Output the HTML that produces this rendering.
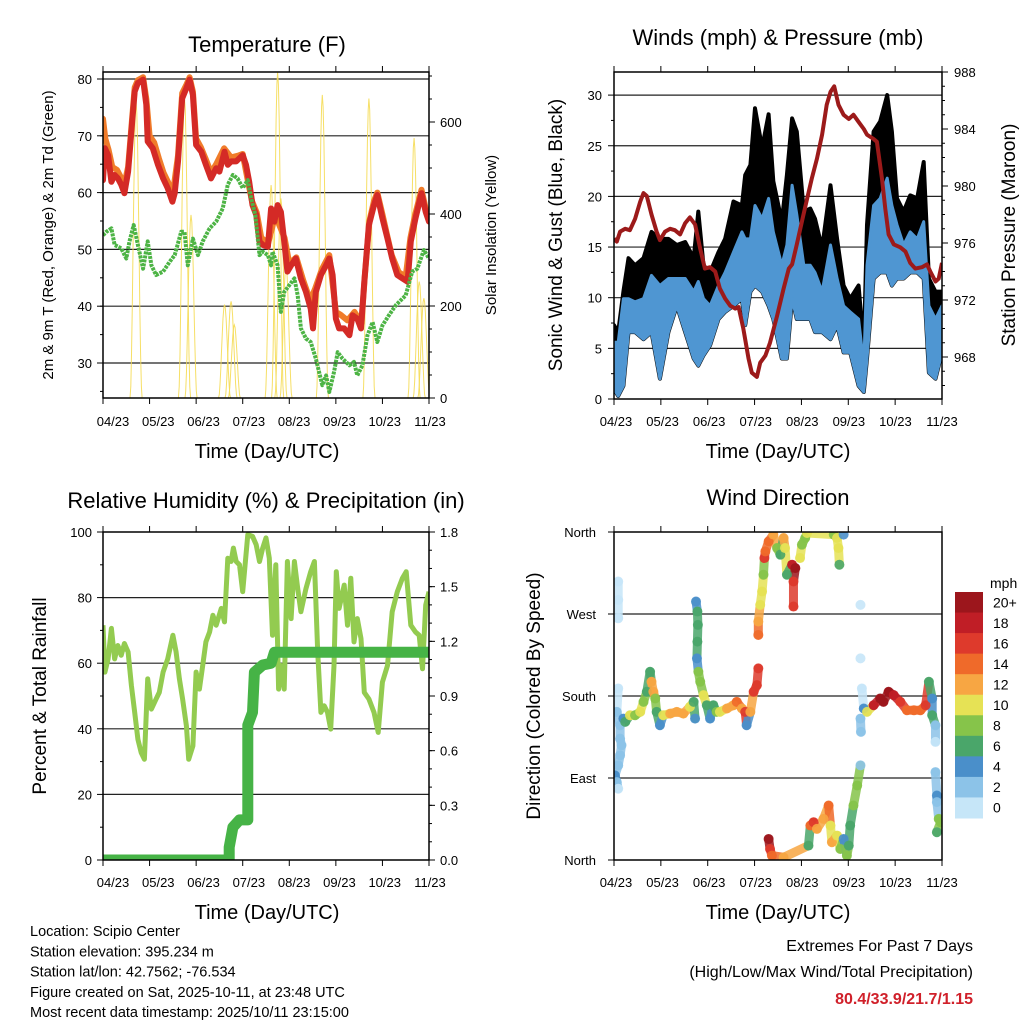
<!DOCTYPE html>
<html><head><meta charset="utf-8">
<style>
html,body{margin:0;padding:0;background:#fff;}
svg{display:block;font-family:"Liberation Sans",sans-serif;}
</style></head>
<body>
<svg id="chart" width="1024" height="1024" viewBox="0 0 1024 1024">
<defs>
<clipPath id="c1"><rect x="103" y="72" width="326" height="326"/></clipPath>
<clipPath id="c2"><rect x="614" y="72" width="328" height="327"/></clipPath>
<clipPath id="c3"><rect x="103" y="532" width="326" height="328"/></clipPath>
<clipPath id="c4"><rect x="614" y="532" width="328" height="328"/></clipPath>
</defs>
<g id="root"></g>
</svg>
<script>
// ---------- DATA (x in months since 04/23) ----------
const xTickLabels = ["04/23","05/23","06/23","07/23","08/23","09/23","10/23","11/23"];
const tempTicks = [80,70,60,50,40,30];
const solarTicks = [0,200,400,600];
const windTicks = [0,5,10,15,20,25,30];
const presTicks = [968,972,976,980,984,988];
const rhTicks = [0,20,40,60,80,100];
const precipTicks = ["0.0","0.3","0.6","0.9","1.2","1.5","1.8"];
const dirLabels = ["North","East","South","West","North"];
const speedBins = ["0","2","4","6","8","10","12","14","16","18","20+"];

const tRedX = [0,0.04,0.11,0.18,0.25,0.32,0.39,0.46,0.54,0.61,0.68,0.75,0.86,0.93,0.96,1.07,1.18,1.29,1.39,1.49,1.54,1.61,1.70,1.79,1.86,1.93,2.0,2.11,2.21,2.32,2.43,2.5,2.61,2.68,2.75,2.86,3.0,3.07,3.14,3.21,3.29,3.36,3.43,3.54,3.61,3.68,3.75,3.82,3.89,3.96,4.04,4.14,4.25,4.36,4.46,4.51,4.57,4.68,4.79,4.86,4.93,5.0,5.07,5.18,5.29,5.36,5.46,5.54,5.61,5.71,5.82,5.89,6.0,6.11,6.21,6.32,6.43,6.54,6.61,6.71,6.84,6.93,7.0];
const tRedV = [62.2,67.8,66.6,61.9,63.1,62.5,61.4,59.9,63.7,70.8,77.8,79.3,79.9,75.5,69.0,67.8,64.9,62.5,60.8,58.4,59.9,65.5,76.6,78.4,79.9,77.2,68.4,67.2,64.9,62.5,64.3,63.7,67.2,64.9,65.5,65.5,66.6,64.9,61.9,57.8,56.1,51.4,50.8,50.5,57.2,54.9,57.8,56.6,51.4,46.1,47.2,48.4,44.9,42.5,39.6,36.1,42.5,45.5,47.2,48.4,45.5,37.8,36.1,36.1,34.9,38.4,37.8,36.1,44.3,54.3,57.8,59.6,55.5,51.9,48.4,45.5,44.9,44.3,51.4,55.5,59.9,56.6,54.9];
const tOrgX = [0,0.05,0.12,0.2,0.3,0.46,0.54,0.61,0.68,0.75,0.86,0.93,1.0,1.1,1.2,1.3,1.4,1.49,1.61,1.70,1.79,1.86,1.93,2.0,2.1,2.2,2.32,2.43,2.6,2.75,2.9,3.0,3.1,3.2,3.3,3.4,3.55,3.7,3.9,4.0,4.15,4.3,4.45,4.55,4.7,4.86,5.0,5.1,5.25,5.4,5.55,5.62,5.72,5.82,5.89,6.0,6.1,6.2,6.35,6.5,6.6,6.7,6.84,6.93,7.0];
const tOrgV = [73.0,69.5,67.5,64.5,64.0,61.5,64.5,71.5,78.5,79.8,80.3,76.5,70.0,68.8,66.0,63.5,61.8,59.2,66.5,77.5,79.0,80.3,77.8,69.5,68.0,66.0,63.5,65.0,67.8,66.2,66.5,66.8,62.5,58.5,56.5,52.0,51.2,56.0,52.0,47.5,48.6,44.5,41.0,43.0,46.5,49.0,39.0,38.5,37.5,39.0,37.0,45.0,55.0,58.5,60.0,56.2,52.5,49.0,46.0,45.2,52.0,56.0,60.5,57.2,56.0];
const tdX = [0,0.07,0.18,0.25,0.39,0.5,0.57,0.66,0.75,0.86,0.96,1.04,1.14,1.29,1.43,1.54,1.68,1.75,1.82,1.93,2.04,2.14,2.29,2.43,2.57,2.68,2.79,2.89,3.0,3.11,3.18,3.27,3.36,3.43,3.54,3.61,3.64,3.75,3.82,3.89,4.0,4.11,4.18,4.25,4.36,4.46,4.57,4.64,4.71,4.79,4.86,4.96,5.04,5.14,5.29,5.39,5.46,5.57,5.68,5.79,5.89,6.0,6.14,6.29,6.5,6.64,6.75,6.89,7.0];
const tdV = [52.5,53.1,53.7,50.8,50.2,48.4,51.4,54.3,50.8,46.6,51.4,47.2,45.5,46.1,47.8,49.0,53.1,53.1,47.2,51.9,49.0,51.4,53.7,54.9,57.2,61.4,63.1,62.5,60.8,62.2,59.0,56.1,49.0,49.6,49.0,47.2,49.6,47.2,39.0,42.5,43.7,44.9,41.9,36.1,34.3,33.7,30.8,28.4,26.1,27.8,24.9,28.4,31.9,30.8,29.6,30.2,27.8,29.6,34.9,37.2,33.7,36.6,38.4,40.2,41.9,46.1,46.6,49.9,48.4];
const solarX = [0.71,1.75,1.89,2.61,2.75,2.82,3.61,3.75,3.82,3.93,4.71,5.71,6.68,6.79,6.89];
const solarV = [644,651,398,203,210,159,463,709,434,290,659,651,565,253,217];

const presX = [0,0.06,0.13,0.24,0.34,0.45,0.56,0.63,0.7,0.8,0.91,0.98,1.09,1.2,1.3,1.41,1.52,1.62,1.73,1.84,1.94,2.05,2.16,2.26,2.37,2.48,2.59,2.66,2.76,2.87,2.94,3.05,3.12,3.23,3.33,3.48,3.62,3.73,3.8,3.9,4.01,4.12,4.22,4.33,4.44,4.54,4.62,4.7,4.79,4.9,5.01,5.11,5.22,5.33,5.4,5.54,5.61,5.72,5.79,5.86,5.97,6.11,6.22,6.32,6.43,6.57,6.68,6.75,6.86,6.93,7.0];
const presV = [976.3,976.1,976.8,977.0,976.9,977.7,978.9,979.5,979.3,978.0,976.8,976.2,976.8,977.0,976.9,976.6,977.4,977.8,977.3,975.6,974.2,974.3,974.0,972.8,972.1,971.6,971.4,971.5,970.0,967.9,966.9,966.6,967.6,968.1,969.0,970.9,972.8,974.2,974.5,975.9,977.5,979.1,980.5,981.9,983.6,985.7,986.6,987.0,985.7,985.0,984.7,985.0,984.5,984.0,983.6,983.3,983.1,980.5,978.4,976.6,975.9,975.7,975.4,974.6,974.2,974.3,974.5,974.0,973.3,973.5,974.6];
const windX = [0,0.09,0.2,0.31,0.45,0.63,0.8,0.98,1.16,1.34,1.52,1.7,1.8,1.91,2.05,2.23,2.37,2.55,2.73,2.8,2.91,3.01,3.16,3.3,3.4,3.58,3.69,3.8,3.9,4.05,4.19,4.29,4.44,4.62,4.76,4.9,5.04,5.22,5.33,5.4,5.54,5.68,5.83,5.93,6.04,6.18,6.32,6.47,6.61,6.72,6.86,7.0];
const gustHi = [7.3,6.6,10.6,13.9,13.2,13.9,16.5,15.8,15.8,15.2,15.5,13.9,18.5,13.2,12.5,14.5,15.8,19.5,19.1,22.1,23.1,28.7,24.8,28.1,21.5,17.5,22.1,27.7,26.4,18.5,18.8,17.8,14.9,21.1,15.8,11.2,9.9,11.2,5.0,17.2,26.4,27.4,30.0,26.4,19.8,18.5,20.1,19.8,23.4,11.9,10.6,10.6];
const windHi = [5.6,5.6,9.9,9.9,9.6,9.9,12.2,11.2,11.9,11.9,11.9,10.6,11.6,9.9,9.2,11.2,12.5,14.5,16.5,15.8,15.8,19.1,17.8,19.8,16.5,13.2,15.2,21.1,18.2,13.2,13.2,12.5,10.6,15.2,11.9,9.2,8.6,7.9,3.3,13.2,19.1,19.8,21.8,19.1,17.2,15.2,16.5,15.8,17.5,9.2,7.9,9.2];
const windLo = [1.0,0.3,1.3,6.6,6.6,5.9,6.6,2.0,6.6,9.2,6.6,4.0,3.3,4.3,5.3,7.9,8.6,9.2,9.9,7.3,10.6,11.2,10.6,9.2,7.9,4.0,4.0,9.9,7.9,7.9,7.9,6.6,6.6,5.9,7.3,4.6,4.6,1.3,0.7,4.0,11.9,12.5,12.5,11.2,11.9,11.9,12.5,12.5,11.9,2.6,2.0,4.6];

const rhX = [0,0.04,0.11,0.18,0.25,0.32,0.39,0.46,0.54,0.61,0.68,0.75,0.82,0.89,0.96,1.04,1.14,1.21,1.29,1.39,1.5,1.57,1.64,1.71,1.79,1.84,1.93,2.0,2.07,2.14,2.21,2.29,2.36,2.43,2.54,2.61,2.68,2.75,2.8,2.86,2.93,3.0,3.11,3.21,3.29,3.36,3.43,3.5,3.57,3.64,3.71,3.77,3.82,3.89,3.96,4.04,4.11,4.18,4.25,4.36,4.46,4.54,4.61,4.68,4.75,4.82,4.89,4.96,5.01,5.07,5.18,5.25,5.32,5.39,5.46,5.54,5.61,5.71,5.82,5.91,6.0,6.11,6.21,6.32,6.43,6.51,6.61,6.71,6.79,6.86,6.93,7.0];
const rhV = [71.6,57.3,61.3,70.6,61.3,65.4,62.4,66.0,63.4,53.2,45.0,36.8,32.7,30.7,55.2,46.0,49.1,51.1,57.3,61.3,68.5,63.4,55.2,49.1,40.9,30.7,34.8,57.3,52.1,59.3,66.5,69.5,74.6,71.6,76.7,72.6,92.0,91.0,95.1,91.0,90.0,81.8,99.2,98.7,96.1,91.0,95.1,98.2,92.0,68.5,90.0,52.1,59.3,52.1,91.0,73.6,91.0,82.8,75.7,82.8,87.9,91.0,63.4,45.0,47.0,45.0,39.9,59.3,87.9,76.7,83.8,71.6,85.9,66.5,73.6,67.5,51.1,49.1,45.0,38.9,54.2,59.3,75.7,81.8,85.9,87.9,71.6,69.5,68.5,58.3,77.7,81.8];
const prX = [0,2.71,2.71,2.79,2.93,3.11,3.11,3.11,3.11,3.11,3.21,3.25,3.43,3.61,3.68,7.0];
const prV = [0,0,0.07,0.18,0.22,0.22,0.37,0.5,0.61,0.74,0.81,1.03,1.07,1.08,1.14,1.14];

const dirX = [0.09,0.09,0.09,0.09,0.06,0.13,0.13,0.16,0.13,0.09,0.02,0.06,0.09, 0.2,0.24,0.34,0.45,0.56,0.63,0.7,0.77,0.8,0.84,0.88,0.91,0.98,1.05,1.2,1.34,1.48,1.62,1.7,1.73, 1.75,1.78,1.79,1.78,1.77,1.8,1.84,1.91,1.98,2.05,2.12,2.19,2.26,2.41,2.55,2.62,2.73,2.8,2.83,2.91,2.98,3.05,3.08,3.08,3.08,3.12,3.16,3.19,3.21,3.23,3.3,3.4,3.48,3.55,3.62,3.65,3.69,3.8,3.87,3.83,3.83,3.97,4.01,4.08,4.12, 4.69,4.76,4.79,4.81,4.9, 3.3,3.33,3.37,3.62, 4.15,4.19,4.26,4.33,4.47,4.58,4.62,4.65,4.76,4.83,4.9,4.97,5.01,5.04,5.11,5.19, 5.26,5.26,5.27,5.26,5.26,5.29, 5.33,5.4,5.54,5.68,5.75,5.86,5.97,6.11,6.25,6.4,6.54,6.65,6.72,6.79,6.79,6.86,6.86,6.86,6.89,6.89,6.93,6.97,6.89];
const dirV = [305.7,285.5,265.3,188.3,162.6,147.9,133.2,125.9,114.9,103.9,92.9,85.5,78.2, 155.2,151.6,158.9,158.9,162.6,173.6,184.6,206.6,195.6,184.6,177.3,162.6,147.9,158.9,160.7,162.6,160.7,168.1,173.6,155.2, 283.7,272.7,258.0,239.7,221.3,206.6,195.6,180.9,169.9,155.2,169.9,162.6,162.6,166.3,169.9,173.6,166.3,162.6,147.9,162.6,184.6,191.9,210.3,247.0,261.7,280.0,294.7,313.1,331.4,338.7,349.7,357.1,342.4,335.1,353.4,342.4,313.1,324.1,320.4,305.7,278.2,331.4,346.1,353.4,358.9, 357.1,353.4,342.4,324.1,357.1, 23.1,12.1,4.8,2.9, 15.8,37.8,41.5,34.1,45.1,59.8,37.8,19.5,26.8,12.1,23.1,4.8,15.8,37.8,59.8,81.8, 103.9,155.2,140.6,221.3,280.0,188.3, 166.3,162.6,169.9,177.3,173.6,184.6,180.9,173.6,164.4,164.4,164.4,169.9,195.6,177.3,158.9,147.9,129.6,96.5,70.8,63.5,45.1,41.5,30.5];
const dirSpd = [0,0,1,1,2,2,2,2,2,2,4,3,1, 5,7,10,9,10,8,7,7,12,12,9,7,4,10,12,12,12,10,7,4, 4,6,6,6,4,8,8,10,7,5,7,8,10,12,13,15,12,17,4,12,17,17,16,14,12,10,10,8,16,14,14,12,8,6,12,10,6,18,20,17,16,10,8,8,10, 8,10,10,6,4, 20,16,14,12, 6,14,16,12,12,14,10,12,10,8,5,8,6,7,8,8, 3,2,3,1,1,1, 5,11,19,20,20,20,18,17,15,14,14,17,6,4,6,2,1,3,4,3,8,8,6];

// ---------- RENDER ----------
const NS = "http://www.w3.org/2000/svg";
const root = document.getElementById("root");
function mk(tag, attrs, parent, text){
  const e = document.createElementNS(NS, tag);
  for (const k in attrs) e.setAttribute(k, attrs[k]);
  if (text !== undefined) e.textContent = text;
  (parent || root).appendChild(e);
  return e;
}
const binColors = ["#c6e6f8","#8cc3e8","#4a8fca","#4aa66a","#86c44a","#e6e255","#f7a643","#ef6a2a","#de3a2c","#c01e26","#9c161c"];
function spdColor(s){ return binColors[Math.min(10, Math.floor(s/2))]; }

const xL = m => 103 + m*46.57;
const xR = m => 614 + m*46.86;
const yT = v => 79 + (80-v)*5.68;
const yS = v => 398 - v*0.46;
const yW = v => 399 - v*10.13;
const yP = p => 357 - (p-968)*14.25;
const yRH = v => 860 - v*3.28;
const yPr = v => 860 - v/1.8*328;
const yD = d => 860 - d/360*328;

function pts(xs, vs, fx, fy){ return xs.map((x,i)=>fx(x).toFixed(1)+","+fy(vs[i]).toFixed(1)).join(" "); }

function frame(x0,y0,x1,y1,name){
  const r = mk("rect",{x:x0,y:y0,width:x1-x0,height:y1-y0,fill:"none",stroke:"#000","stroke-width":1.5});
  
  
  for (let k=0;k<8;k++){
    const x = x0 + k*(x1-x0)/7;
    mk("line",{x1:x,y1:y1,x2:x,y2:y1+6,stroke:"#000","stroke-width":1});
    mk("line",{x1:x,y1:y0,x2:x,y2:y0-6,stroke:"#000","stroke-width":1});
  }
}
function xLabels(x0,x1,y,name){
  const g = mk("g",{});
  
  
  xTickLabels.forEach((t,k)=>{
    mk("text",{x:x0+k*(x1-x0)/7,y:y,"font-size":13,"text-anchor":"middle"},g,t);
  });
}
function hgrid(y, x0, x1){ mk("line",{x1:x0,y1:y,x2:x1,y2:y,stroke:"#222","stroke-width":1.2}); }
function tickL(x,y,len){ mk("line",{x1:x,y1:y,x2:x-len,y2:y,stroke:"#000","stroke-width":1}); }
function tickR(x,y,len){ mk("line",{x1:x,y1:y,x2:x+len,y2:y,stroke:"#000","stroke-width":1}); }
function title(x,y,t,name,size){
  const e = mk("text",{x:x,y:y,"font-size":size||22,"text-anchor":"middle"},root,t);
  
  
}
function vlabel(x,y,t,name,size){
  const e = mk("text",{x:x,y:y,"font-size":size,"text-anchor":"middle",transform:"rotate(-90 "+x+" "+y+")"},root,t);
  
  
}

// ===== Panel 1 =====
title(267,52,"Temperature (F)","temperature-title");
tempTicks.forEach(v=>{ hgrid(yT(v),103,429); tickL(103,yT(v),6); mk("text",{x:92,y:yT(v)+5,"font-size":13,"text-anchor":"end"},root,String(v)); });
for (let v=25; v<=80; v+=5) tickL(103,yT(v),3);
solarTicks.forEach(v=>{ tickR(429,yS(v),6); mk("text",{x:440,y:yS(v)+5,"font-size":13},root,String(v)); });
for (let v=50; v<=700; v+=50) tickR(429,yS(v),3);
{
  const g = mk("g",{"clip-path":"url(#c1)"});
  
  
  const sg = mk("g",{},g);
  
  
  solarX.forEach((m,i)=>{
    const hw = 0.13, n=16; let d="";
    for (let j=0;j<=n;j++){
      const t = -1 + 2*j/n; const mm = m + t*hw;
      const v = solarV[i]*Math.pow(Math.cos(t*Math.PI/2),2);
      d += (j?"L":"M") + xL(mm).toFixed(1)+","+yS(v).toFixed(1);
    }
    const p = mk("path",{d:d,fill:"none",stroke:"#f5dc55","stroke-width":1,opacity:0.9},sg);
    
    
  });
  const o = mk("polyline",{points:pts(tOrgX,tOrgV,xL,yT),fill:"none",stroke:"#f07c2a","stroke-width":6,"stroke-linejoin":"round","stroke-linecap":"round"},g);
  
  
  const r = mk("polyline",{points:pts(tRedX,tRedV,xL,yT),fill:"none",stroke:"#d42a26","stroke-width":6,"stroke-linejoin":"round","stroke-linecap":"round"},g);
  
  
  const gr = mk("polyline",{points:pts(tdX,tdV,xL,yT),fill:"none",stroke:"#4db445","stroke-width":4,"stroke-dasharray":"3 1","stroke-linejoin":"round"},g);
  
  
}
frame(103,72,429,398,"temperature-frame");
xLabels(113,430,426,"temperature-x-tick-labels");
title(267,458,"Time (Day/UTC)","temperature-x-axis-title",20);
vlabel(53,235,"2m & 9m T (Red, Orange) & 2m Td (Green)","temperature-left-axis-title",15);
vlabel(496,235,"Solar Insolation (Yellow)","solar-right-axis-title",15);

// ===== Panel 2 =====
title(778,45,"Winds (mph) & Pressure (mb)","winds-title");
windTicks.forEach(v=>{ if(v>0) hgrid(yW(v),614,942); tickL(614,yW(v),6); mk("text",{x:602,y:yW(v)+5,"font-size":13,"text-anchor":"end"},root,String(v)); });
for (let v=2.5; v<=32; v+=5) tickL(614,yW(v),3);
presTicks.forEach(v=>{ tickR(942,yP(v),6); mk("text",{x:954,y:yP(v)+5,"font-size":13},root,String(v)); });
for (let v=966; v<=988; v+=1) tickR(942,yP(v),3);
{
  const g = mk("g",{"clip-path":"url(#c2)"});
  
  
  const gustPoly = pts(windX,gustHi,xR,yW) + " " + pts(windX.slice().reverse(),windLo.slice().reverse(),xR,yW);
  const gb = mk("polygon",{points:gustPoly,fill:"#000",stroke:"#000","stroke-width":4,"stroke-linejoin":"round"},g);
  
  
  const windPoly = pts(windX,windHi,xR,yW) + " " + pts(windX.slice().reverse(),windLo.slice().reverse(),xR,yW);
  const wb = mk("polygon",{points:windPoly,fill:"#4f96d2",stroke:"#4f96d2","stroke-width":3,"stroke-linejoin":"round"},g);
  
  
  const p = mk("polyline",{points:pts(presX,presV,xR,yP),fill:"none",stroke:"#9c1a1a","stroke-width":4,"stroke-linejoin":"round"},g);
  
  
}
frame(614,72,942,399,"winds-frame");
xLabels(616,942,426,"winds-x-tick-labels");
title(778,458,"Time (Day/UTC)","winds-x-axis-title",20);
vlabel(562,235,"Sonic Wind & Gust (Blue, Black)","wind-left-axis-title",19);
vlabel(1015,235,"Station Pressure (Maroon)","pressure-right-axis-title",19);

// ===== Panel 3 =====
title(266,508,"Relative Humidity (%) & Precipitation (in)","humidity-title");
rhTicks.forEach(v=>{ if(v>0&&v<100) hgrid(yRH(v),103,429); tickL(103,yRH(v),6); mk("text",{x:92,y:yRH(v)+5,"font-size":13,"text-anchor":"end"},root,String(v)); });
for (let v=10; v<=100; v+=20) tickL(103,yRH(v),3);
precipTicks.forEach(t=>{ const v=parseFloat(t); tickR(429,yPr(v),6); mk("text",{x:440,y:yPr(v)+5,"font-size":13},root,t); });
for (let v=0.1; v<1.8; v+=0.1) tickR(429,yPr(v),3);
{
  const g = mk("g",{"clip-path":"url(#c3)"});
  
  
  const rh = mk("polyline",{points:pts(rhX,rhV,xL,yRH),fill:"none",stroke:"#93cb50","stroke-width":5,"stroke-linejoin":"round"},g);
  
  
  const pr = mk("polyline",{points:pts(prX,prV,xL,yPr),fill:"none",stroke:"#46b346","stroke-width":11,"stroke-linejoin":"round","stroke-linecap":"round"},g);
  
  
}
frame(103,532,429,860,"humidity-frame");
xLabels(113,430,887,"humidity-x-tick-labels");
title(267,919,"Time (Day/UTC)","humidity-x-axis-title",20);
vlabel(46,696,"Percent & Total Rainfall","humidity-left-axis-title",19);

// ===== Panel 4 =====
title(778,505,"Wind Direction","wind-direction-title");
dirLabels.forEach((t,k)=>{ const d=k*90; if(k>0&&k<4) hgrid(yD(d),614,942); tickL(614,yD(d),6); mk("text",{x:596,y:yD(d)+5,"font-size":13,"text-anchor":"end"},root,t); });
{
  const g = mk("g",{"clip-path":"url(#c4)"});
  
  
  for (let i=0;i<dirX.length-1;i++){
    const xa=xR(dirX[i]), ya=yD(dirV[i]), xb=xR(dirX[i+1]), yb=yD(dirV[i+1]);
    if (Math.hypot(xb-xa,yb-ya) < 30){
      const l = mk("line",{x1:xa,y1:ya,x2:xb,y2:yb,stroke:spdColor(dirSpd[i]),"stroke-width":9,"stroke-linecap":"round",opacity:0.85},g);
      
      
    }
  }
  dirX.forEach((m,i)=>{
    const c = mk("circle",{cx:xR(m),cy:yD(dirV[i]),r:5,fill:spdColor(dirSpd[i]),opacity:0.9},g);
    
    
  });
}
frame(614,532,942,860,"wind-direction-frame");
xLabels(616,942,887,"wind-direction-x-tick-labels");
title(778,919,"Time (Day/UTC)","wind-direction-x-axis-title",20);
vlabel(540,696,"Direction (Colored By Speed)","wind-direction-left-axis-title",19);

{
  const g = mk("g",{});
  
  
  mk("text",{x:990,y:588,"font-size":14},g,"mph");
  const n = speedBins.length, top=592, h=226/n;
  for (let i=0;i<n;i++){
    const bi = n-1-i;
    const r = mk("rect",{x:955,y:top+i*h,width:28,height:h+0.5,fill:binColors[bi]},g);
    
    
    mk("text",{x:993,y:top+i*h+h/2+5,"font-size":14},g,speedBins[bi]);
  }
}

// ===== Footer =====
{
  const g = mk("g",{});
  
  
  const lines = ["Location: Scipio Center","Station elevation: 395.234 m","Station lat/lon: 42.7562; -76.534","Figure created on Sat, 2025-10-11, at 23:48 UTC","Most recent data timestamp: 2025/10/11 23:15:00"];
  lines.forEach((t,i)=>mk("text",{x:30,y:936+i*20.3,"font-size":14.5},g,t));
  const e = mk("g",{});
  
  
  mk("text",{x:973,y:951,"font-size":16,"text-anchor":"end"},e,"Extremes For Past 7 Days");
  mk("text",{x:973,y:977,"font-size":16,"text-anchor":"end"},e,"(High/Low/Max Wind/Total Precipitation)");
  mk("text",{x:973,y:1004,"font-size":16,"font-weight":"bold","text-anchor":"end",fill:"#d0202a"},e,"80.4/33.9/21.7/1.15");
}
</script>
</body></html>
